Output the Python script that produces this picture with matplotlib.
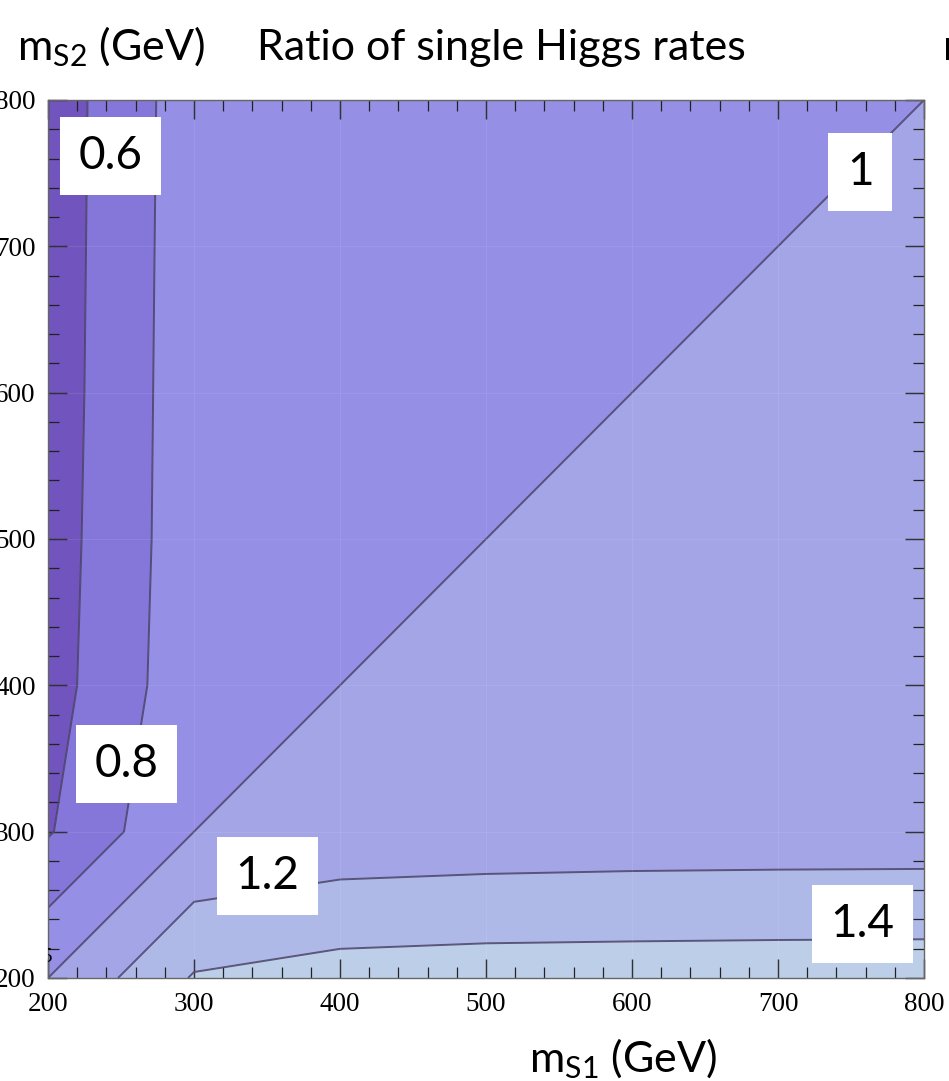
import numpy as np
import matplotlib
matplotlib.use("Agg")
import matplotlib.pyplot as plt
from matplotlib.patches import Rectangle
from matplotlib.colors import ListedColormap, BoundaryNorm

# grid of masses (GeV)
m_s1 = np.array([200, 300, 400, 500, 600, 700, 800])
m_s2 = np.array([200, 300, 400, 500, 600, 700, 800])

# ratio of single Higgs rates, rows = m_S2, columns = m_S1
ratio = np.array([
    [1.000, 1.417, 1.484, 1.500, 1.504, 1.508, 1.510],
    [0.583, 1.000, 1.062, 1.078, 1.088, 1.092, 1.094],
    [0.517, 0.933, 1.000, 1.030, 1.040, 1.045, 1.050],
    [0.504, 0.921, 0.960, 1.000, 1.020, 1.030, 1.035],
    [0.494, 0.919, 0.950, 0.980, 1.000, 1.015, 1.020],
    [0.489, 0.915, 0.945, 0.970, 0.985, 1.000, 1.010],
    [0.485, 0.910, 0.940, 0.960, 0.975, 0.990, 1.000],
])

levels = [0.6, 0.8, 1.0, 1.2, 1.4]
band_colors = ['#7254be', '#8577da', '#958fe6', '#a3a5e6', '#aeb9e8', '#bdcfe8']

# hand placed contour labels
label_text = ['0.6', '0.8', '1', '1.2', '1.4']
label_x = [242.8, 253.8, 756.2, 350.3, 757.9]
label_y = [761.7, 346.1, 750.8, 269.6, 236.8]
label_w = [69, 69, 44, 69, 69]

fig = plt.figure(figsize=(9.49, 10.81), dpi=100)
ax = fig.add_axes([0.0506, 0.0953, 0.9231, 0.8122])

X, Y = np.meshgrid(m_s1, m_s2)
bounds = [-10] + levels + [10]
cmap = ListedColormap(band_colors)
norm = BoundaryNorm(bounds, cmap.N)
ax.contourf(X, Y, ratio, levels=bounds, cmap=cmap, norm=norm, antialiased=True)
ax.contour(X, Y, ratio, levels=levels, colors='#4a4268', linewidths=1.4, alpha=0.85)

# faint mesh lines
for v in m_s1[1:-1]:
    ax.axvline(v, color='white', lw=0.8, alpha=0.08)
    ax.axhline(v, color='white', lw=0.8, alpha=0.08)

ax.set_xlim(200, 800)
ax.set_ylim(200, 800)
ax.set_xticks(np.arange(200, 801, 100))
ax.set_yticks(np.arange(200, 801, 100))
ax.set_xticks(np.arange(200, 801, 20), minor=True)
ax.set_yticks(np.arange(200, 801, 20), minor=True)
ax.tick_params(which='both', direction='in', top=True, right=True, color='#222222')
ax.tick_params(which='major', length=14, width=1.0)
ax.tick_params(which='minor', length=8, width=0.9)
ax.tick_params(axis='x', which='major', pad=10)
ax.tick_params(axis='y', which='major', pad=9)
for lab in ax.get_xticklabels() + ax.get_yticklabels():
    lab.set_fontfamily('Liberation Serif')
    lab.set_fontsize(19.5)
for sp in ax.spines.values():
    sp.set_color('#666666')
    sp.set_linewidth(1.0)

for t, x, y, w in zip(label_text, label_x, label_y, label_w):
    ax.add_patch(Rectangle((x - w / 2, y - 26.65), w, 53.3, facecolor='white',
                           edgecolor='none', zorder=5))
    ax.text(x, y, t, ha='center', va='center', fontsize=33, family='Lato',
            zorder=6)

ax.text(199, 214, '5', fontsize=15, family='Liberation Serif', ha='center',
        va='center', clip_on=True, zorder=4)

fig.text(17 / 949, 1 - 60 / 1081, r'm$_\mathregular{S2}$ (GeV)', fontsize=31,
         family='Lato', va='baseline', ha='left')
fig.text(257 / 949, 1 - 60 / 1081, 'Ratio of single Higgs rates', fontsize=31,
         family='Lato', va='baseline', ha='left')
fig.text(943 / 949, 1 - 60 / 1081, 'm', fontsize=31, family='Lato',
         va='baseline', ha='left')
fig.text(529 / 949, 1 - 1072 / 1081, r'm$_\mathregular{S1}$ (GeV)', fontsize=31,
         family='Lato', va='baseline', ha='left')

fig.savefig('out.png', dpi=100)
